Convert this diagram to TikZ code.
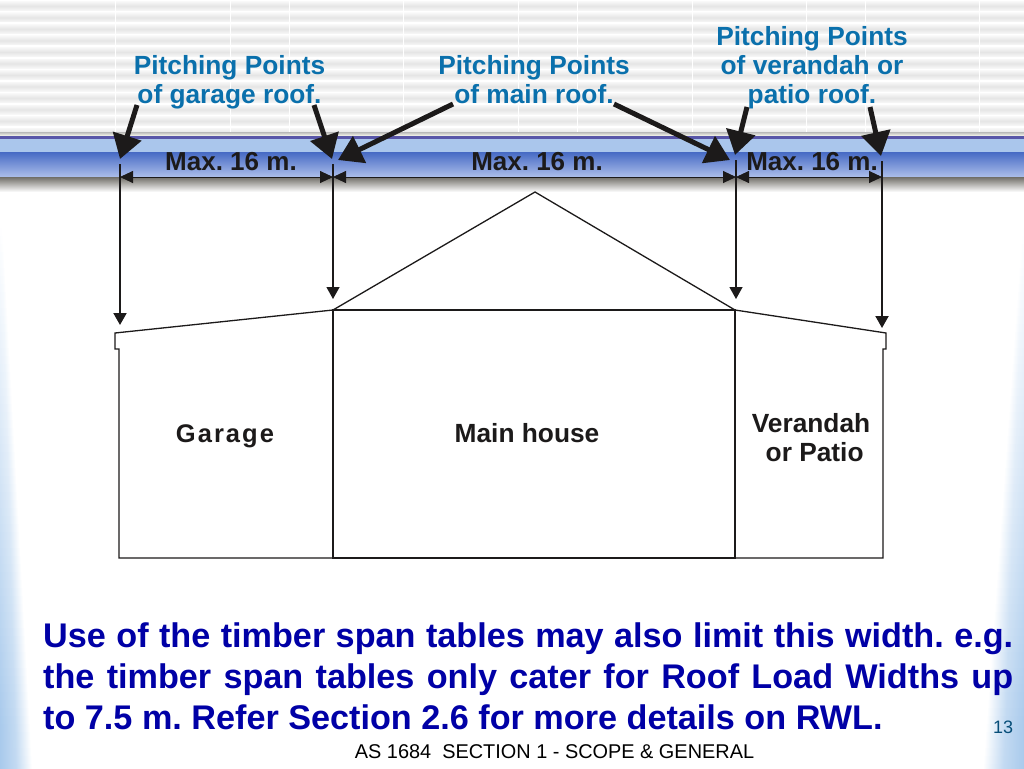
\documentclass[tikz,border=0pt]{standalone}
\usepackage{fontspec}
\setmainfont{Liberation Sans}
\usetikzlibrary{arrows.meta}
\frenchspacing
\definecolor{pitchblue}{HTML}{0A70AC}
\definecolor{bodyblue}{HTML}{0000A6}
\definecolor{edgeblue}{HTML}{A9CAEC}
\definecolor{inkblack}{HTML}{1C1A1A}
\tikzset{
 pitchlabel/.style={text=pitchblue,font=\fontsize{26.3}{29}\selectfont\bfseries,align=center,inner sep=0pt},
 maxlabel/.style={text=inkblack,font=\fontsize{26}{29}\selectfont\bfseries,inner sep=0pt},
 roomlabel/.style={text=inkblack,font=\fontsize{26.3}{29}\selectfont\bfseries,align=center,inner sep=0pt},
 pointer/.style={draw=inkblack,line width=5pt,-{Triangle[length=24pt,width=29pt]}},
 dimline/.style={draw=inkblack,line width=0.9pt,{Triangle[length=13pt,width=12pt]}-{Triangle[length=13pt,width=12pt]}},
 dropline/.style={draw=inkblack,line width=2pt,-{Triangle[length=12pt,width=13pt]}},
 wall/.style={draw=inkblack,line width=1.3pt,line join=miter},
}
\begin{document}
\begin{tikzpicture}[x=1pt,y=-1pt]
 \useasboundingbox (0,0) rectangle (1024,768);
 \fill [white] (0,0) rectangle (1024,768);
 \foreach \row in {0,...,11}
  \shade [top color=black!3,bottom color=black!3,middle color=black!10]
   (0,{1.5+11.5*\row}) rectangle (1024,{10.5+11.5*\row});
 \foreach \col in {115,230,289,403,518,577,692,806,865,979}
  \draw [white,line width=0.9pt] (\col,0) -- (\col,136);
 \foreach \y in {220,228,...,768} {
  \pgfmathsetmacro{\edgel}{2+(\y-220)*0.055}
  \pgfmathsetmacro{\edger}{2+(\y-220)*0.072}
  \pgfmathsetmacro{\edgek}{min(100,(\y-220)*0.2)}
  \shade [left color=edgeblue!\edgek!white,right color=white,middle color=edgeblue!\edgek!white!70!white]
   (0,\y) rectangle (\edgel,\y+8.5);
  \shade [right color=edgeblue!\edgek!white,left color=white,middle color=edgeblue!\edgek!white!70!white]
   (1024-\edger,\y) rectangle (1024,\y+8.5);
 }
 \shade [top color=black!28,bottom color=black!20!yellow!6!white] (0,132) rectangle (1024,136);
 \fill [fill={rgb,255:red,88;green,86;blue,168}] (0,136) rectangle (1024,138.5);
 \fill [fill={rgb,255:red,170;green,198;blue,236}] (0,138.5) rectangle (1024,152);
 \shade [top color={rgb,255:red,70;green,106;blue,196},bottom color={rgb,255:red,172;green,190;blue,234}] (0,152) rectangle (1024,177);
 \shade [top color={rgb,255:red,112;green,110;blue,104},bottom color=white] (0,177) rectangle (1024,192);

 \coordinate (apex) at (535,192);
 \coordinate (mainnw) at (333,310);
 \coordinate (mainne) at (735,310);
 \coordinate (mainse) at (735,558);
 \coordinate (mainsw) at (333,558);
 \coordinate (garageeave) at (115,333);
 \coordinate (verandaeave) at (886,333);
 \draw [wall] (mainnw) -- (garageeave) -- (115,349) -- (119,349) -- (119,558) -- (mainsw);
 \draw [wall] (mainne) -- (verandaeave) -- (886,349) -- (883,349) -- (883,558) -- (mainse);
 \draw [wall] (mainnw) -- (apex) -- (mainne);
 \draw [wall,line width=2.2pt] (mainnw) -- (mainne) -- (mainse) -- (mainsw) -- cycle;

 \node [pitchlabel] (garagepts) at (229.5,82) {Pitching Points\\of garage roof.};
 \node [pitchlabel] (mainpts) at (534,80) {Pitching Points\\of main roof.};
 \node [pitchlabel] (verandapts) at (812,67.5) {Pitching Points\\of verandah or\\patio roof.};

 \coordinate (dimA) at (120,177);
 \coordinate (dimB) at (333,177);
 \coordinate (dimC) at (736,177);
 \coordinate (dimD) at (882,177);
 \draw [dimline] (dimA) -- (dimB);
 \draw [dimline] (dimB) -- (dimC);
 \draw [dimline] (dimC) -- (dimD);
 \node [maxlabel] (maxgarage) at (231,162) {Max. 16 m.};
 \node [maxlabel] (maxmain) at (537,162) {Max. 16 m.};
 \node [maxlabel] (maxveranda) at (812,162) {Max. 16 m.};

 \coordinate (dropA) at (120,164);
 \coordinate (dropB) at (333,164);
 \coordinate (dropC) at (736,160);
 \coordinate (dropD) at (882,161);
 \draw [dropline] (dropA) -- (120,325);
 \draw [dropline,line width=1.3pt] (dropB) -- (333,299);
 \draw [dropline,line width=1.3pt] (dropC) -- (736,299);
 \draw [dropline] (dropD) -- (882,328);

 \coordinate (tailA) at (137,105);
 \coordinate (tailB) at (314,105);
 \coordinate (tailC) at (453,104);
 \coordinate (tailD) at (614,104);
 \coordinate (tailE) at (747,107);
 \coordinate (tailF) at (870,107);
 \coordinate (tipA) at (120,159);
 \coordinate (tipB) at (332,159);
 \coordinate (tipC) at (338,160);
 \coordinate (tipD) at (730,160);
 \coordinate (tipE) at (735,155);
 \coordinate (tipF) at (881,156);
 \foreach \from/\to in {tailA/tipA,tailB/tipB,tailC/tipC,tailD/tipD,tailE/tipE,tailF/tipF}
  \draw [pointer] (\from) -- (\to);

 \node [roomlabel,font=\fontsize{25.5}{29}\selectfont\bfseries\addfontfeature{LetterSpace=8}] (garage) at (225,436) {Garage};
 \node [roomlabel] (mainhouse) at (527,433) {Main house};
 \node [roomlabel] (veranda) at (811,438) {Verandah\\\ or Patio};

 \node [anchor=north west,inner sep=0pt,text width=970pt,align=justify,text=bodyblue,
  font=\fontsize{34.2}{41}\selectfont\bfseries] (note) at (43,623)
  {Use of the timber span tables may also limit this width. e.g.\linebreak
  the timber span tables only cater for Roof Load Widths up\linebreak
  to 7.5 m. Refer Section 2.6 for more details on RWL.};
 \node [inner sep=0pt,font=\fontsize{19.9}{22}\selectfont] (footer) at (554.5,752) {AS 1684\ \ SECTION 1 - SCOPE \& GENERAL};
 \node [inner sep=0pt,text=pitchblue!70!black,font=\fontsize{18}{22}\selectfont] (pageno) at (1003,727) {13};
\end{tikzpicture}
\end{document}
